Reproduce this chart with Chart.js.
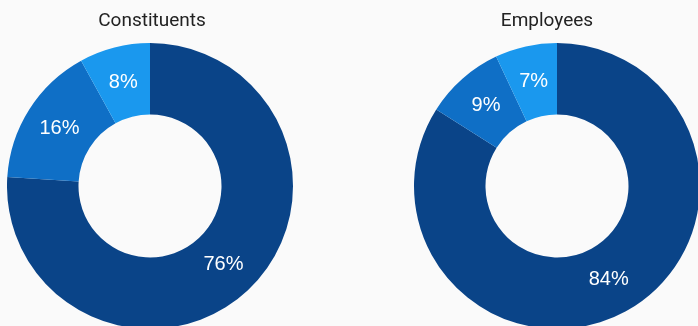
<!DOCTYPE html>
<html>
<head>
<meta charset="utf-8">
<script src="https://cdn.jsdelivr.net/npm/chart.js@4"></script>
<style>
  html, body { margin: 0; padding: 0; background: #fafafa; width: 698px; height: 326px; overflow: hidden; position: relative; }
  canvas { position: absolute; top: 0; }
  #c1 { left: 7px; }
  #c2 { left: 394px; }
</style>
</head>
<body>
<canvas id="c1" width="290" height="329"></canvas>
<canvas id="c2" width="306" height="329"></canvas>
<script>
// Share of each group, in percent
const groups = ['Group A', 'Group B', 'Group C'];
const constituentShares = [76, 16, 8];
const employeeShares = [84, 9, 7];
const sliceColors = ['#0a4488', '#0f6fc6', '#1a98ee'];

// Writes each slice's percentage at the middle of its arc
const sliceLabels = {
  id: 'sliceLabels',
  afterDatasetsDraw(chart) {
    const ctx = chart.ctx;
    const ds = chart.data.datasets[0];
    chart.getDatasetMeta(0).data.forEach((arc, i) => {
      const p = arc.tooltipPosition();
      ctx.save();
      ctx.fillStyle = '#ffffff';
      ctx.font = '20px "Liberation Sans", Arial, sans-serif';
      ctx.textAlign = 'center';
      ctx.textBaseline = 'middle';
      ctx.fillText(ds.data[i] + '%', p.x, p.y);
      ctx.restore();
    });
  }
};

// Centres the title over the whole canvas, ignoring the side padding
const titleSpan = {
  id: 'titleSpan',
  afterLayout(chart) {
    if (chart.titleBlock) {
      chart.titleBlock.left = 0;
      chart.titleBlock.right = chart.width;
      chart.titleBlock.width = chart.width;
    }
  }
};

function makeDonut(id, title, values, padding) {
  return new Chart(document.getElementById(id), {
    type: 'doughnut',
    data: {
      labels: groups,
      datasets: [{
        data: values,
        backgroundColor: sliceColors,
        borderWidth: 0,
        hoverOffset: 0
      }]
    },
    options: {
      responsive: false,
      animation: false,
      cutout: '50%',
      events: [],
      layout: { padding: padding },
      plugins: {
        legend: { display: false },
        tooltip: { enabled: false },
        title: {
          display: true,
          text: title,
          color: '#222222',
          font: { family: 'Roboto', size: 19, weight: 'normal', lineHeight: 1.2 },
          padding: { top: 9.4, bottom: 10.8 }
        }
      }
    },
    plugins: [sliceLabels, titleSpan]
  });
}

makeDonut('c1', 'Constituents', constituentShares, { right: 4 });
makeDonut('c2', 'Employees', employeeShares, { left: 20 });
</script>
</body>
</html>
